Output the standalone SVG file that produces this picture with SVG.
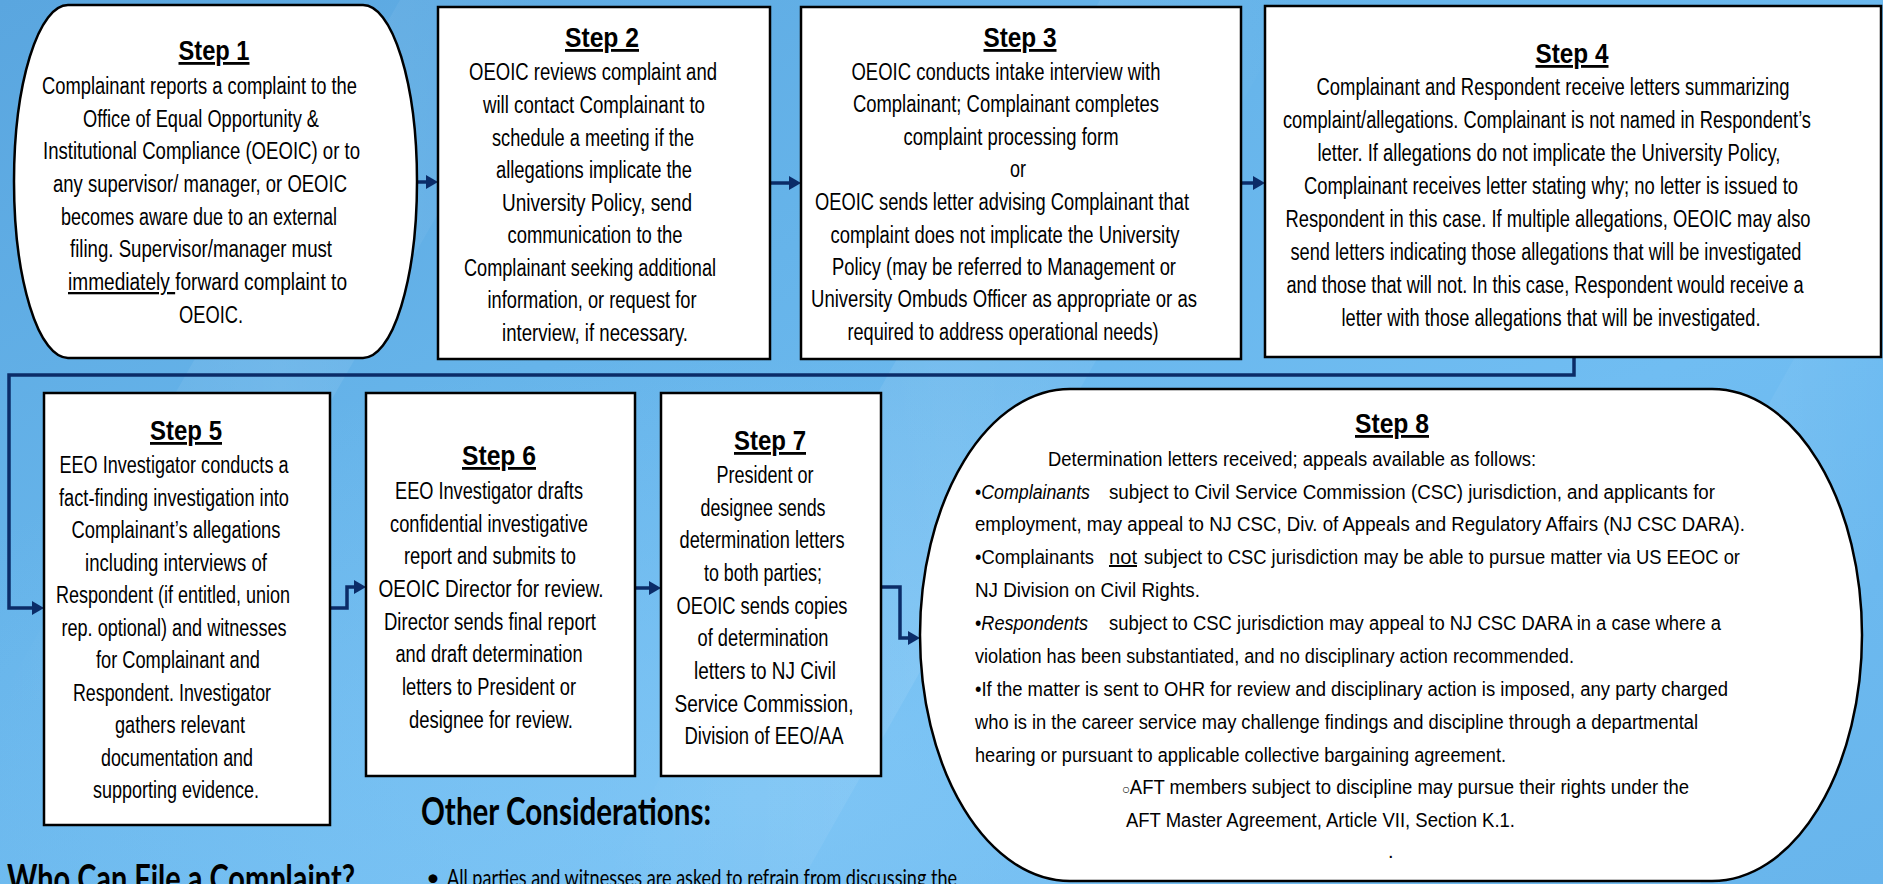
<svg xmlns="http://www.w3.org/2000/svg" width="1883" height="884" viewBox="0 0 1883 884">
<style>
.box{fill:#fff;stroke:#000;stroke-width:2.5}
.t{font-family:"Liberation Sans Narrow","Liberation Sans",Arial,sans-serif;font-size:23px;fill:#000;text-anchor:middle}
.tl{text-anchor:start}
.h{font-weight:bold;font-size:28px;text-decoration:underline}
.s8{font-size:20px;text-anchor:start}
.conn{fill:none;stroke:#0b2c68;stroke-width:3.5}
.cal{font-family:Lato,"Open Sans",sans-serif;font-weight:bold;font-size:38px;fill:#000}
.bul{font-family:Lato,"Open Sans",sans-serif;font-size:24px;fill:#000}
</style>
<defs>
<linearGradient id="bg" x1="0" y1="0" x2="1" y2="1">
<stop offset="0" stop-color="#5aa6df"/>
<stop offset="0.35" stop-color="#66b4ea"/>
<stop offset="0.65" stop-color="#70bdf2"/>
<stop offset="1" stop-color="#68b5ec"/>
</linearGradient>
<radialGradient id="glow" cx="0.4" cy="0.9" r="0.5">
<stop offset="0" stop-color="#8ccdf8" stop-opacity="0.5"/>
<stop offset="1" stop-color="#8ccdf8" stop-opacity="0"/>
</radialGradient>
<linearGradient id="streak" x1="0" y1="0" x2="1" y2="0">
<stop offset="0" stop-color="#fff" stop-opacity="0"/>
<stop offset="0.5" stop-color="#fff" stop-opacity="0.09"/>
<stop offset="1" stop-color="#fff" stop-opacity="0"/>
</linearGradient>
<marker id="ah" markerUnits="userSpaceOnUse" markerWidth="13" markerHeight="14" refX="4" refY="7" orient="auto">
<path d="M0,0 L12,7 L0,14 z" fill="#0b2c68"/>
</marker>
</defs>
<rect width="1883" height="884" fill="url(#bg)"/>
<rect width="1883" height="884" fill="url(#glow)"/>
<polygon points="0,700 160,700 560,0 400,0" fill="url(#streak)"/>
<polygon points="600,884 800,884 1300,0 1100,0" fill="url(#streak)"/>
<polygon points="1500,884 1700,884 1883,560 1883,200" fill="url(#streak)"/>

<g id="connectors">
<path class="conn" d="M417,182 H430" marker-end="url(#ah)"/>
<path class="conn" d="M770,183 H793" marker-end="url(#ah)"/>
<path class="conn" d="M1241,183 H1257" marker-end="url(#ah)"/>
<path class="conn" d="M1574,357 V375 H9 V608 H36" marker-end="url(#ah)"/>
<path class="conn" d="M330,608 H347 V587 H358" marker-end="url(#ah)"/>
<path class="conn" d="M635,588 H653" marker-end="url(#ah)"/>
<path class="conn" d="M881,587 H900 V638 H912" marker-end="url(#ah)"/>
</g>

<g id="step1">
<rect class="box" x="14" y="5" width="403" height="353" rx="54" ry="176.5"/>
<text class="t h" x="214" y="60" textLength="71" lengthAdjust="spacingAndGlyphs">Step 1</text>
<text class="t" x="199.5" y="94" textLength="315" lengthAdjust="spacingAndGlyphs">Complainant reports a complaint to the</text>
<text class="t" x="201" y="127" textLength="236" lengthAdjust="spacingAndGlyphs">Office of Equal Opportunity &amp;</text>
<text class="t" x="201.5" y="159" textLength="317" lengthAdjust="spacingAndGlyphs">Institutional Compliance (OEOIC) or to</text>
<text class="t" x="200" y="192" textLength="294" lengthAdjust="spacingAndGlyphs">any supervisor/ manager, or OEOIC</text>
<text class="t" x="199" y="225" textLength="276" lengthAdjust="spacingAndGlyphs">becomes aware due to an external</text>
<text class="t" x="201" y="257" textLength="262" lengthAdjust="spacingAndGlyphs">filing. Supervisor/manager must</text>
<text class="t tl" x="68" y="290" textLength="279" lengthAdjust="spacingAndGlyphs"><tspan text-decoration="underline">immediately </tspan> forward complaint to</text>
<text class="t" x="211" y="323" textLength="64" lengthAdjust="spacingAndGlyphs">OEOIC.</text>
</g>

<g id="step2">
<rect class="box" x="438" y="7" width="332" height="352"/>
<text class="t h" x="602" y="47" textLength="74" lengthAdjust="spacingAndGlyphs">Step 2</text>
<text class="t" x="593" y="80" textLength="248" lengthAdjust="spacingAndGlyphs">OEOIC reviews complaint and</text>
<text class="t" x="594" y="113" textLength="222" lengthAdjust="spacingAndGlyphs">will contact Complainant to</text>
<text class="t" x="593" y="146" textLength="202" lengthAdjust="spacingAndGlyphs">schedule a meeting if the</text>
<text class="t" x="594" y="178" textLength="196" lengthAdjust="spacingAndGlyphs">allegations implicate the</text>
<text class="t" x="597" y="211" textLength="190" lengthAdjust="spacingAndGlyphs">University Policy, send</text>
<text class="t" x="595" y="243" textLength="175" lengthAdjust="spacingAndGlyphs">communication to the</text>
<text class="t" x="590" y="276" textLength="252" lengthAdjust="spacingAndGlyphs">Complainant seeking additional</text>
<text class="t" x="592" y="308" textLength="209" lengthAdjust="spacingAndGlyphs">information, or request for</text>
<text class="t" x="595" y="341" textLength="186" lengthAdjust="spacingAndGlyphs">interview, if necessary.</text>
</g>

<g id="step3">
<rect class="box" x="801" y="7" width="440" height="352"/>
<text class="t h" x="1020" y="47" textLength="73" lengthAdjust="spacingAndGlyphs">Step 3</text>
<text class="t" x="1006" y="80" textLength="309" lengthAdjust="spacingAndGlyphs">OEOIC conducts intake interview with</text>
<text class="t" x="1006" y="112" textLength="306" lengthAdjust="spacingAndGlyphs">Complainant; Complainant completes</text>
<text class="t" x="1011" y="145" textLength="215" lengthAdjust="spacingAndGlyphs">complaint processing form</text>
<text class="t" x="1018" y="177" textLength="16" lengthAdjust="spacingAndGlyphs">or</text>
<text class="t" x="1002" y="210" textLength="374" lengthAdjust="spacingAndGlyphs">OEOIC sends letter advising Complainant that</text>
<text class="t" x="1005" y="243" textLength="349" lengthAdjust="spacingAndGlyphs">complaint does not implicate the University</text>
<text class="t" x="1004" y="275" textLength="344" lengthAdjust="spacingAndGlyphs">Policy (may be referred to Management or</text>
<text class="t" x="1004" y="307" textLength="386" lengthAdjust="spacingAndGlyphs">University Ombuds Officer as appropriate or as</text>
<text class="t" x="1003" y="340" textLength="311" lengthAdjust="spacingAndGlyphs">required to address operational needs)</text>
</g>

<g id="step4">
<rect class="box" x="1265" y="6" width="616" height="351"/>
<text class="t h" x="1572" y="63" textLength="73" lengthAdjust="spacingAndGlyphs">Step 4</text>
<text class="t" x="1553" y="95" textLength="473" lengthAdjust="spacingAndGlyphs">Complainant and Respondent receive letters summarizing</text>
<text class="t" x="1547" y="128" textLength="528" lengthAdjust="spacingAndGlyphs">complaint/allegations. Complainant is not named in Respondent’s</text>
<text class="t" x="1549" y="161" textLength="463" lengthAdjust="spacingAndGlyphs">letter. If allegations do not implicate the University Policy,</text>
<text class="t" x="1551" y="194" textLength="494" lengthAdjust="spacingAndGlyphs">Complainant receives letter stating why; no letter is issued to</text>
<text class="t" x="1548" y="227" textLength="525" lengthAdjust="spacingAndGlyphs">Respondent in this case. If multiple allegations, OEOIC may also</text>
<text class="t" x="1546" y="260" textLength="511" lengthAdjust="spacingAndGlyphs">send letters indicating those allegations that will be investigated</text>
<text class="t" x="1545" y="293" textLength="517" lengthAdjust="spacingAndGlyphs">and those that will not. In this case, Respondent would receive a</text>
<text class="t" x="1551" y="326" textLength="419" lengthAdjust="spacingAndGlyphs">letter with those allegations that will be investigated.</text>
</g>

<g id="step5">
<rect class="box" x="44" y="393" width="286" height="432"/>
<text class="t h" x="186" y="440" textLength="72" lengthAdjust="spacingAndGlyphs">Step 5</text>
<text class="t" x="174" y="473" textLength="229" lengthAdjust="spacingAndGlyphs">EEO Investigator conducts a</text>
<text class="t" x="174" y="506" textLength="230" lengthAdjust="spacingAndGlyphs">fact-finding investigation into</text>
<text class="t" x="176" y="538" textLength="209" lengthAdjust="spacingAndGlyphs">Complainant’s allegations</text>
<text class="t" x="176" y="571" textLength="182" lengthAdjust="spacingAndGlyphs">including interviews of</text>
<text class="t" x="173" y="603" textLength="234" lengthAdjust="spacingAndGlyphs">Respondent (if entitled, union</text>
<text class="t" x="174" y="636" textLength="225" lengthAdjust="spacingAndGlyphs">rep. optional) and witnesses</text>
<text class="t" x="178" y="668" textLength="164" lengthAdjust="spacingAndGlyphs">for Complainant and</text>
<text class="t" x="172" y="701" textLength="198" lengthAdjust="spacingAndGlyphs">Respondent. Investigator</text>
<text class="t" x="180" y="733" textLength="130" lengthAdjust="spacingAndGlyphs">gathers relevant</text>
<text class="t" x="177" y="766" textLength="152" lengthAdjust="spacingAndGlyphs">documentation and</text>
<text class="t" x="176" y="798" textLength="166" lengthAdjust="spacingAndGlyphs">supporting evidence.</text>
</g>

<g id="step6">
<rect class="box" x="366" y="393" width="269" height="383"/>
<text class="t h" x="499" y="465" textLength="74" lengthAdjust="spacingAndGlyphs">Step 6</text>
<text class="t" x="489" y="499" textLength="188" lengthAdjust="spacingAndGlyphs">EEO Investigator drafts</text>
<text class="t" x="489" y="532" textLength="198" lengthAdjust="spacingAndGlyphs">confidential investigative</text>
<text class="t" x="490" y="564" textLength="172" lengthAdjust="spacingAndGlyphs">report and submits to</text>
<text class="t" x="491" y="597" textLength="225" lengthAdjust="spacingAndGlyphs">OEOIC Director for review.</text>
<text class="t" x="490" y="630" textLength="212" lengthAdjust="spacingAndGlyphs">Director sends final report</text>
<text class="t" x="489" y="662" textLength="187" lengthAdjust="spacingAndGlyphs">and draft determination</text>
<text class="t" x="489" y="695" textLength="174" lengthAdjust="spacingAndGlyphs">letters to President or</text>
<text class="t" x="491" y="728" textLength="164" lengthAdjust="spacingAndGlyphs">designee for review.</text>
</g>

<g id="step7">
<rect class="box" x="661" y="393" width="220" height="383"/>
<text class="t h" x="770" y="450" textLength="72" lengthAdjust="spacingAndGlyphs">Step 7</text>
<text class="t" x="765" y="483" textLength="97" lengthAdjust="spacingAndGlyphs">President or</text>
<text class="t" x="763" y="516" textLength="125" lengthAdjust="spacingAndGlyphs">designee sends</text>
<text class="t" x="762" y="548" textLength="165" lengthAdjust="spacingAndGlyphs">determination letters</text>
<text class="t" x="763" y="581" textLength="118" lengthAdjust="spacingAndGlyphs">to both parties;</text>
<text class="t" x="762" y="614" textLength="171" lengthAdjust="spacingAndGlyphs">OEOIC sends copies</text>
<text class="t" x="763" y="646" textLength="131" lengthAdjust="spacingAndGlyphs">of determination</text>
<text class="t" x="765" y="679" textLength="142" lengthAdjust="spacingAndGlyphs">letters to NJ Civil</text>
<text class="t" x="764" y="712" textLength="179" lengthAdjust="spacingAndGlyphs">Service Commission,</text>
<text class="t" x="764" y="744" textLength="159" lengthAdjust="spacingAndGlyphs">Division of EEO/AA</text>
</g>

<g id="step8">
<rect class="box" x="920" y="389" width="942" height="492" rx="150" ry="246"/>
<text class="t h" x="1392" y="433" font-size="25" textLength="74" lengthAdjust="spacingAndGlyphs">Step 8</text>
<text class="t s8" x="1048" y="466" textLength="488" lengthAdjust="spacingAndGlyphs">Determination letters received; appeals available as follows:</text>
<text class="t s8" x="975" y="499" textLength="115" lengthAdjust="spacingAndGlyphs">•<tspan font-style="italic">Complainants</tspan></text>
<text class="t s8" x="1109" y="499" textLength="606" lengthAdjust="spacingAndGlyphs">subject to Civil Service Commission (CSC) jurisdiction, and applicants for</text>
<text class="t s8" x="975" y="531" textLength="770" lengthAdjust="spacingAndGlyphs">employment, may appeal to NJ CSC, Div. of Appeals and Regulatory Affairs (NJ CSC DARA).</text>
<text class="t s8" x="975" y="564" textLength="119" lengthAdjust="spacingAndGlyphs">•Complainants</text>
<text class="t s8" x="1109" y="564" textLength="28" lengthAdjust="spacingAndGlyphs" text-decoration="underline">not</text>
<text class="t s8" x="1144" y="564" textLength="596" lengthAdjust="spacingAndGlyphs">subject to CSC jurisdiction may be able to pursue matter via US EEOC or</text>
<text class="t s8" x="975" y="597" textLength="225" lengthAdjust="spacingAndGlyphs">NJ Division on Civil Rights.</text>
<text class="t s8" x="975" y="630" textLength="113" lengthAdjust="spacingAndGlyphs">•<tspan font-style="italic">Respondents</tspan></text>
<text class="t s8" x="1109" y="630" textLength="612" lengthAdjust="spacingAndGlyphs">subject to CSC jurisdiction may appeal to NJ CSC DARA in a case where a</text>
<text class="t s8" x="975" y="663" textLength="599" lengthAdjust="spacingAndGlyphs">violation has been substantiated, and no disciplinary action recommended.</text>
<text class="t s8" x="975" y="696" textLength="753" lengthAdjust="spacingAndGlyphs">•If the matter is sent to OHR for review and disciplinary action is imposed, any party charged</text>
<text class="t s8" x="975" y="729" textLength="723" lengthAdjust="spacingAndGlyphs">who is in the career service may challenge findings and discipline through a departmental</text>
<text class="t s8" x="975" y="762" textLength="531" lengthAdjust="spacingAndGlyphs">hearing or pursuant to applicable collective bargaining agreement.</text>
<text class="t s8" x="1122" y="794" textLength="567" lengthAdjust="spacingAndGlyphs"><tspan font-size="14">○</tspan>AFT members subject to discipline may pursue their rights under the</text>
<text class="t s8" x="1126" y="827" textLength="389" lengthAdjust="spacingAndGlyphs">AFT Master Agreement, Article VII, Section K.1.</text>
<text class="t s8" x="1388" y="858">.</text>
</g>

<g id="other-considerations">
<text class="cal" x="421" y="825" textLength="290" lengthAdjust="spacingAndGlyphs">Other Considerations:</text>
<text class="bul" x="426" y="886">•</text>
<text class="bul" x="447" y="886" textLength="510" lengthAdjust="spacingAndGlyphs">All parties and witnesses are asked to refrain from discussing the</text>
</g>

<g id="who-can-file">
<text class="cal" x="7" y="892" textLength="348" lengthAdjust="spacingAndGlyphs">Who Can File a Complaint?</text>
</g>
</svg>
